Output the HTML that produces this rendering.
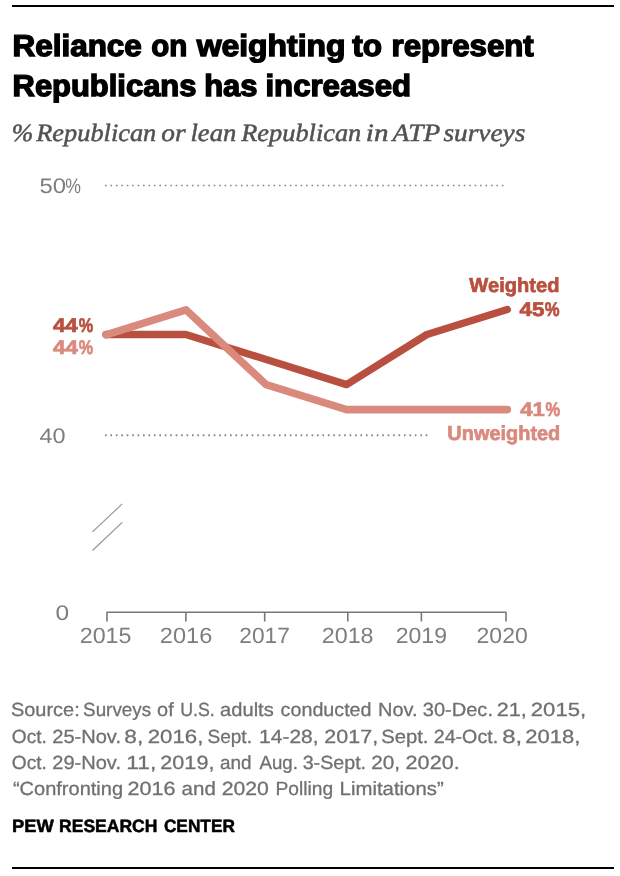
<!DOCTYPE html>
<html lang="en">
<head>
<meta charset="utf-8">
<title>Reliance on weighting to represent Republicans has increased</title>
<style>
html,body{margin:0;padding:0;background:#fff;}
body{width:620px;height:876px;overflow:hidden;}
svg{display:block;}
text{white-space:pre;text-rendering:geometricPrecision;}
.t{font-family:"Liberation Sans",Arial,sans-serif;font-weight:bold;fill:#000;stroke:#000;}
.s{font-family:"Liberation Serif","Times New Roman",serif;font-style:italic;fill:#525252;stroke:#525252;}
.a{font-family:"Liberation Sans",Arial,sans-serif;fill:#7e7e7e;stroke:#7e7e7e;}
.n{font-family:"Liberation Sans",Arial,sans-serif;fill:#707070;stroke:#707070;}
.d{font-family:"Liberation Sans",Arial,sans-serif;font-weight:bold;fill:#b9503f;stroke:#b9503f;}
.l{font-family:"Liberation Sans",Arial,sans-serif;font-weight:bold;fill:#da897d;stroke:#da897d;}
</style>
</head>
<body>
<svg width="620" height="876" viewBox="0 0 620 876">
<rect x="0" y="0" width="620" height="876" fill="#fff"/>
<!-- top rule -->
<rect x="12" y="5" width="602" height="2" fill="#000"/>
<!-- gridlines -->
<g stroke="#868686" stroke-dasharray="1.6 3.836" fill="none">
<line x1="105" y1="185.5" x2="504" y2="185.5" stroke-width="1.6"/>
<line x1="105" y1="435.2" x2="428" y2="435.2" stroke-width="2"/>
</g>
<!-- axis break -->
<g stroke="#909090" stroke-width="1.1" fill="none">
<line x1="92.5" y1="531.9" x2="122.2" y2="503.9"/>
<line x1="92.5" y1="550.5" x2="122.2" y2="522.3"/>
</g>
<!-- x axis -->
<g stroke="#787878" stroke-width="1.6" fill="none" stroke-linejoin="round">
<path d="M107 621.4 V612.2 H506 V621.4"/>
<path d="M185.9 612.2 V621.4 M264.7 612.2 V621.4 M347.8 612.2 V621.4 M421.4 612.2 V621.4"/>
</g>
<!-- data lines -->
<g fill="none" stroke-linecap="round" stroke-linejoin="round">
<polyline stroke="#b9503f" stroke-width="7.4" points="106,334.5 185.85,334.5 266.2,359.5 346.55,384.6 426.9,334.5 507.25,309.5"/>
<polyline stroke="#da897d" stroke-width="7.6" points="106,334.8 185.9,309.8 266.2,384.7 346.55,409.6 426.9,409.6 507.3,409.6"/>
</g>
<!-- bottom rule -->
<rect x="12" y="867" width="602" height="2" fill="#000"/>

<text class="t" y="55.9" font-size="30.3" stroke-width="1.4"><tspan x="12.49" textLength="129.34" lengthAdjust="spacingAndGlyphs">Reliance</tspan> <tspan x="151.34" textLength="36.03" lengthAdjust="spacingAndGlyphs">on</tspan> <tspan x="196.69" textLength="148.86" lengthAdjust="spacingAndGlyphs">weighting</tspan> <tspan x="352.26" textLength="29.85" lengthAdjust="spacingAndGlyphs">to</tspan> <tspan x="391.56" textLength="142.15" lengthAdjust="spacingAndGlyphs">represent</tspan></text>
<text class="t" y="95.9" font-size="30.3" stroke-width="1.4"><tspan x="12.57" textLength="183.87" lengthAdjust="spacingAndGlyphs">Republicans</tspan> <tspan x="204.20" textLength="53.34" lengthAdjust="spacingAndGlyphs">has</tspan> <tspan x="265.42" textLength="145.68" lengthAdjust="spacingAndGlyphs">increased</tspan></text>
<text class="s" y="141" font-size="24.8" stroke-width="0.5"><tspan x="11.82" textLength="21.47" lengthAdjust="spacingAndGlyphs">%</tspan> <tspan x="36.28" textLength="119.98" lengthAdjust="spacingAndGlyphs">Republican</tspan> <tspan x="161.32" textLength="24.37" lengthAdjust="spacingAndGlyphs">or</tspan> <tspan x="190.49" textLength="45.80" lengthAdjust="spacingAndGlyphs">lean</tspan> <tspan x="241.28" textLength="120.03" lengthAdjust="spacingAndGlyphs">Republican</tspan> <tspan x="365.86" textLength="22.60" lengthAdjust="spacingAndGlyphs">in</tspan> <tspan x="392.43" textLength="47.32" lengthAdjust="spacingAndGlyphs">ATP</tspan> <tspan x="443.48" textLength="81.89" lengthAdjust="spacingAndGlyphs">surveys</tspan></text>
<text class="a" y="193.2" font-size="21.0" stroke-width="0"><tspan x="39.48" textLength="26.52" lengthAdjust="spacingAndGlyphs">50</tspan><tspan x="65.28" textLength="15.71" lengthAdjust="spacingAndGlyphs">%</tspan></text>
<text class="a" y="443.1" font-size="21.0" stroke-width="0"><tspan x="39.59" textLength="26.06" lengthAdjust="spacingAndGlyphs">40</tspan></text>
<text class="a" y="620.4" font-size="21.0" stroke-width="0"><tspan x="55.60" textLength="13.61" lengthAdjust="spacingAndGlyphs">0</tspan></text>
<text class="a" y="643" font-size="22.0" stroke-width="0"><tspan x="79.74" textLength="51.76" lengthAdjust="spacingAndGlyphs">2015</tspan> <tspan x="159.88" textLength="52.36" lengthAdjust="spacingAndGlyphs">2016</tspan> <tspan x="239.30" textLength="50.59" lengthAdjust="spacingAndGlyphs">2017</tspan> <tspan x="321.73" textLength="51.88" lengthAdjust="spacingAndGlyphs">2018</tspan> <tspan x="395.71" textLength="51.27" lengthAdjust="spacingAndGlyphs">2019</tspan> <tspan x="476.57" textLength="51.26" lengthAdjust="spacingAndGlyphs">2020</tspan></text>
<text class="d" y="332" font-size="19.8" stroke-width="0.7"><tspan x="52.90" textLength="24.97" lengthAdjust="spacingAndGlyphs">44</tspan><tspan x="78.78" textLength="14.46" lengthAdjust="spacingAndGlyphs">%</tspan></text>
<text class="l" y="353.8" font-size="19.8" stroke-width="0.7"><tspan x="52.93" textLength="24.93" lengthAdjust="spacingAndGlyphs">44</tspan><tspan x="78.80" textLength="14.42" lengthAdjust="spacingAndGlyphs">%</tspan></text>
<text class="d" y="292" font-size="20.3" stroke-width="0.7"><tspan x="469.37" textLength="90.07" lengthAdjust="spacingAndGlyphs">Weighted</tspan></text>
<text class="d" y="315.8" font-size="19.8" stroke-width="0.7"><tspan x="519.63" textLength="24.95" lengthAdjust="spacingAndGlyphs">45</tspan><tspan x="544.87" textLength="14.79" lengthAdjust="spacingAndGlyphs">%</tspan></text>
<text class="l" y="416.0" font-size="19.8" stroke-width="0.7"><tspan x="520.32" textLength="24.55" lengthAdjust="spacingAndGlyphs">41</tspan><tspan x="545.48" textLength="14.65" lengthAdjust="spacingAndGlyphs">%</tspan></text>
<text class="l" y="440" font-size="20.3" stroke-width="0.7"><tspan x="447.33" textLength="112.96" lengthAdjust="spacingAndGlyphs">Unweighted</tspan></text>
<text class="n" y="716.2" font-size="19.0" stroke-width="0.3"><tspan x="10.98" textLength="68.76" lengthAdjust="spacingAndGlyphs">Source:</tspan> <tspan x="83.10" textLength="68.02" lengthAdjust="spacingAndGlyphs">Surveys</tspan> <tspan x="157.11" textLength="16.58" lengthAdjust="spacingAndGlyphs">of</tspan> <tspan x="180.18" textLength="34.53" lengthAdjust="spacingAndGlyphs">U.S.</tspan> <tspan x="220.08" textLength="53.70" lengthAdjust="spacingAndGlyphs">adults</tspan> <tspan x="280.63" textLength="90.90" lengthAdjust="spacingAndGlyphs">conducted</tspan> <tspan x="378.10" textLength="39.49" lengthAdjust="spacingAndGlyphs">Nov.</tspan> <tspan x="422.79" textLength="70.17" lengthAdjust="spacingAndGlyphs">30-Dec.</tspan> <tspan x="496.79" textLength="30.11" lengthAdjust="spacingAndGlyphs">21,</tspan> <tspan x="530.83" textLength="55.26" lengthAdjust="spacingAndGlyphs">2015,</tspan></text>
<text class="n" y="742.5" font-size="19.0" stroke-width="0.3"><tspan x="11.89" textLength="35.05" lengthAdjust="spacingAndGlyphs">Oct.</tspan> <tspan x="52.22" textLength="68.78" lengthAdjust="spacingAndGlyphs">25-Nov.</tspan> <tspan x="124.28" textLength="18.94" lengthAdjust="spacingAndGlyphs">8,</tspan> <tspan x="147.78" textLength="55.60" lengthAdjust="spacingAndGlyphs">2016,</tspan> <tspan x="207.47" textLength="44.49" lengthAdjust="spacingAndGlyphs">Sept.</tspan> <tspan x="259.12" textLength="59.43" lengthAdjust="spacingAndGlyphs">14-28,</tspan> <tspan x="324.39" textLength="53.74" lengthAdjust="spacingAndGlyphs">2017,</tspan> <tspan x="381.18" textLength="47.32" lengthAdjust="spacingAndGlyphs">Sept.</tspan> <tspan x="433.74" textLength="64.38" lengthAdjust="spacingAndGlyphs">24-Oct.</tspan> <tspan x="502.30" textLength="19.94" lengthAdjust="spacingAndGlyphs">8,</tspan> <tspan x="525.19" textLength="55.10" lengthAdjust="spacingAndGlyphs">2018,</tspan></text>
<text class="n" y="768.6" font-size="19.0" stroke-width="0.3"><tspan x="11.89" textLength="35.05" lengthAdjust="spacingAndGlyphs">Oct.</tspan> <tspan x="52.22" textLength="68.78" lengthAdjust="spacingAndGlyphs">29-Nov.</tspan> <tspan x="126.31" textLength="30.00" lengthAdjust="spacingAndGlyphs">11,</tspan> <tspan x="160.37" textLength="54.03" lengthAdjust="spacingAndGlyphs">2019,</tspan> <tspan x="220.08" textLength="31.51" lengthAdjust="spacingAndGlyphs">and</tspan> <tspan x="259.49" textLength="38.44" lengthAdjust="spacingAndGlyphs">Aug.</tspan> <tspan x="302.66" textLength="63.44" lengthAdjust="spacingAndGlyphs">3-Sept.</tspan> <tspan x="371.21" textLength="28.87" lengthAdjust="spacingAndGlyphs">20,</tspan> <tspan x="405.60" textLength="54.10" lengthAdjust="spacingAndGlyphs">2020.</tspan></text>
<text class="n" y="794.7" font-size="19.0" stroke-width="0.3"><tspan x="12.92" textLength="110.17" lengthAdjust="spacingAndGlyphs">“Confronting</tspan> <tspan x="127.62" textLength="48.00" lengthAdjust="spacingAndGlyphs">2016</tspan> <tspan x="181.60" textLength="34.22" lengthAdjust="spacingAndGlyphs">and</tspan> <tspan x="221.66" textLength="47.24" lengthAdjust="spacingAndGlyphs">2020</tspan> <tspan x="275.47" textLength="57.65" lengthAdjust="spacingAndGlyphs">Polling</tspan> <tspan x="339.61" textLength="104.08" lengthAdjust="spacingAndGlyphs">Limitations”</tspan></text>
<text class="t" y="832.3" font-size="17.8" stroke-width="0.5"><tspan x="12.12" textLength="41.78" lengthAdjust="spacingAndGlyphs">PEW</tspan> <tspan x="59.02" textLength="98.42" lengthAdjust="spacingAndGlyphs">RESEARCH</tspan> <tspan x="163.92" textLength="70.95" lengthAdjust="spacingAndGlyphs">CENTER</tspan></text>
</svg>
</body>
</html>
